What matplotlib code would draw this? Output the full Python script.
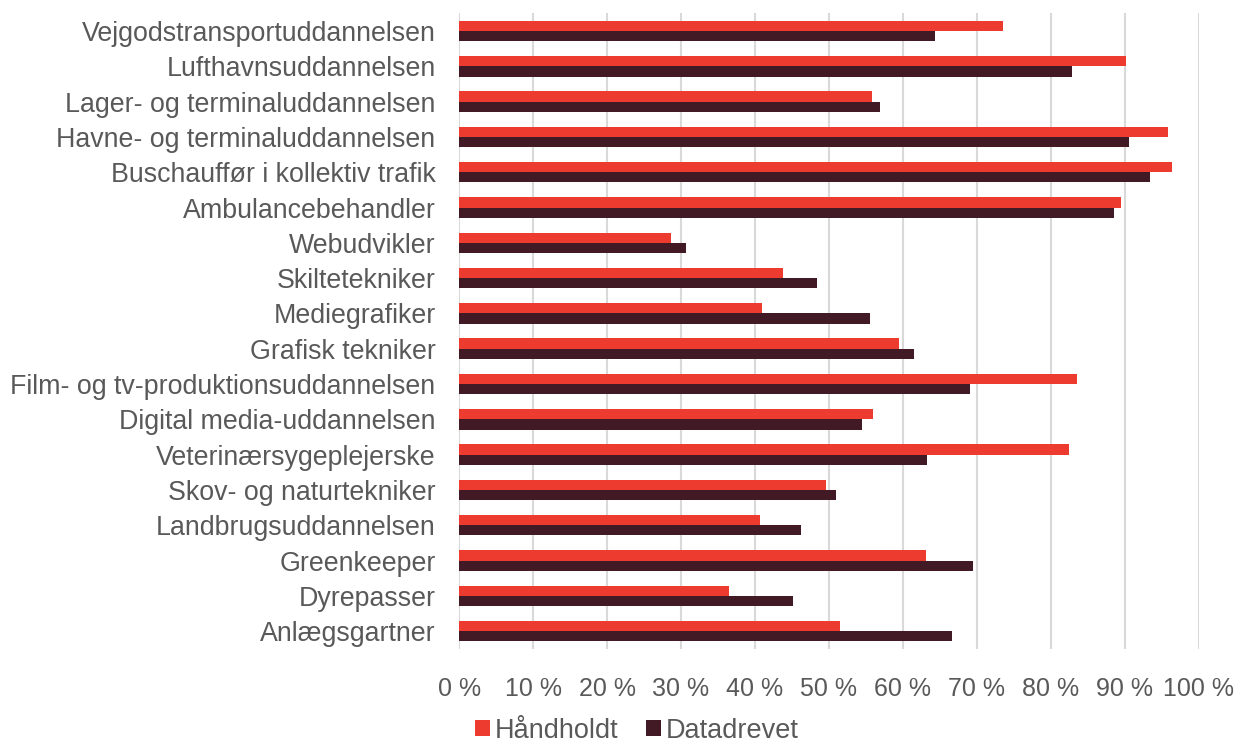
import numpy as np
import matplotlib
matplotlib.use("Agg")
import matplotlib.pyplot as plt
from matplotlib.ticker import FuncFormatter

categories = [
    "Vejgodstransportuddannelsen",
    "Lufthavnsuddannelsen",
    "Lager- og terminaluddannelsen",
    "Havne- og terminaluddannelsen",
    "Buschauffør i kollektiv trafik",
    "Ambulancebehandler",
    "Webudvikler",
    "Skiltetekniker",
    "Mediegrafiker",
    "Grafisk tekniker",
    "Film- og tv-produktionsuddannelsen",
    "Digital media-uddannelsen",
    "Veterinærsygeplejerske",
    "Skov- og naturtekniker",
    "Landbrugsuddannelsen",
    "Greenkeeper",
    "Dyrepasser",
    "Anlægsgartner",
]
haandholdt = [73.5, 90.2, 55.8, 95.9, 96.4, 89.5, 28.7, 43.8, 41.0,
              59.5, 83.5, 56.0, 82.4, 49.6, 40.7, 63.1, 36.5, 51.5]
datadrevet = [64.4, 82.8, 56.9, 90.5, 93.4, 88.5, 30.7, 48.4, 55.6,
              61.5, 69.1, 54.5, 63.3, 51.0, 46.2, 69.5, 45.2, 66.6]
x_ticks = list(range(0, 101, 10))

red = "#EE3B2F"
dark = "#421A26"
grey_text = "#595959"

plt.rcParams["font.family"] = ["Liberation Sans", "DejaVu Sans"]

fig = plt.figure(figsize=(12.41, 7.44), dpi=100)
ax = fig.add_axes([0.37, 0.128, 0.596, 0.854])

y = np.arange(len(categories))
h = 0.29

ax.barh(y - h / 2, haandholdt, height=h, color=red, label="Håndholdt", zorder=3)
ax.barh(y + h / 2, datadrevet, height=h, color=dark, label="Datadrevet", zorder=3)

ax.set_ylim(len(categories) - 0.5, -0.5)
ax.set_xlim(0, 100)
ax.set_yticks(y)
ax.set_yticklabels(categories)
ax.set_xticks(x_ticks)
ax.xaxis.set_major_formatter(FuncFormatter(lambda v, p: f"{v:.0f} %"))

ax.grid(axis="x", color="#D9D9D9", linewidth=1.5, zorder=0)
ax.tick_params(axis="both", length=0, colors=grey_text)
ax.tick_params(axis="x", pad=20, labelsize=18)
ax.tick_params(axis="y", pad=17, labelsize=19.3)
for s in ax.spines.values():
    s.set_visible(False)

fig.legend(loc="center", bbox_to_anchor=(637 / 1241, 0.018),
           ncol=2, frameon=False, fontsize=19.5, labelcolor=grey_text,
           handlelength=0.55, handleheight=0.55, handletextpad=0.2,
           columnspacing=1.0, borderpad=0.1)

fig.savefig("out.png", dpi=100)
